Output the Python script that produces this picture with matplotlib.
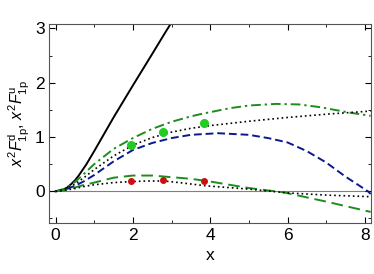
import numpy as np
import matplotlib
import matplotlib.pyplot as plt

plt.rcParams['font.family'] = ['Liberation Sans', 'DejaVu Sans']
plt.rcParams['mathtext.fontset'] = 'custom'
plt.rcParams['mathtext.rm'] = 'Liberation Sans'
plt.rcParams['mathtext.it'] = 'Liberation Sans:italic'

# curves
x_solid = [0, 0.1, 0.2, 0.3, 0.4, 0.5, 0.6, 0.8, 1.0, 1.25, 1.5, 2.0, 2.5, 2.85, 3.0]
y_solid = [0, 0.01, 0.03, 0.07, 0.13, 0.2, 0.29, 0.5, 0.74, 1.05, 1.36, 1.95, 2.53, 2.94, 3.11]

x_dd_up = [0, 0.25, 0.5, 0.75, 1.0, 1.5, 2.0, 2.5, 3.0, 3.5, 3.74, 4.5, 5.0, 5.7, 6.3, 6.84, 7.6, 8.15]
y_dd_up = [0, 0.05, 0.17, 0.33, 0.5, 0.78, 0.98, 1.15, 1.28, 1.38, 1.42, 1.53, 1.58, 1.61, 1.6, 1.55, 1.45, 1.39]

x_dot_up = [0, 0.25, 0.5, 0.75, 1.0, 1.5, 2.0, 2.5, 3.0, 3.5, 4.0, 5.0, 6.0, 7.0, 8.0, 8.15]
y_dot_up = [0, 0.04, 0.13, 0.26, 0.4, 0.65, 0.85, 0.99, 1.09, 1.16, 1.21, 1.29, 1.36, 1.42, 1.47, 1.48]

x_blue = [0, 0.25, 0.5, 0.75, 1.0, 1.5, 2.0, 2.5, 3.0, 3.5, 4.2, 5.0, 5.5, 6.0, 6.5, 7.0, 7.5, 8.08, 8.15]
y_blue = [0, 0.03, 0.1, 0.19, 0.3, 0.55, 0.76, 0.89, 0.98, 1.04, 1.07, 1.04, 0.98, 0.9, 0.74, 0.53, 0.27, 0.0, -0.05]

x_dash_lo = [0, 0.25, 0.5, 0.75, 1.0, 1.5, 2.0, 2.5, 3.0, 3.5, 4.0, 5.0, 5.9, 7.0, 8.15]
y_dash_lo = [0, 0.02, 0.07, 0.12, 0.16, 0.25, 0.29, 0.29, 0.26, 0.23, 0.18, 0.06, -0.02, -0.19, -0.38]

x_dot_lo = [0, 0.25, 0.5, 0.75, 1.0, 1.5, 2.0, 2.4, 2.8, 3.2, 3.9, 5.0, 6.0, 7.0, 8.15]
y_dot_lo = [0, 0.02, 0.05, 0.09, 0.12, 0.16, 0.18, 0.19, 0.19, 0.16, 0.1, 0.04, -0.03, -0.07, -0.1]

# data points
x_pts = [1.94, 2.78, 3.85]
y_green = [0.86, 1.09, 1.26]
y_red = [0.19, 0.21, 0.19]

fig = plt.figure(figsize=(3.74, 2.74), dpi=100)
ax = fig.add_axes([0.132, 0.187, 0.859, 0.725])

ax.axhline(0, color='gray', lw=0.8, zorder=1)
ax.plot(x_solid, y_solid, color='black', lw=1.4)
ax.plot(x_dd_up, y_dd_up, color='#1e8c1e', lw=1.4, dashes=(5, 2, 1.2, 2))
ax.plot(x_dot_up, y_dot_up, color='black', lw=1.2, dashes=(1, 1.8))
ax.plot(x_blue, y_blue, color='#0a1a8c', lw=1.4, dashes=(4, 2))
ax.plot(x_dash_lo, y_dash_lo, color='#1e8c1e', lw=1.4, dashes=(6, 3))
ax.plot(x_dot_lo, y_dot_lo, color='black', lw=1.2, dashes=(1, 1.8))

ax.plot(x_pts, y_green, 'o', color='#22cc22', ms=5.5, zorder=5)
ax.plot(x_pts, y_red, 'o', color='#cc1010', ms=4, zorder=5)

ax.set_xlim(-0.16, 8.15)
ax.set_ylim(-0.58, 3.08)
ax.set_xticks([0, 2, 4, 6, 8])
ax.set_yticks([0, 1, 2, 3])
ax.set_xticks([1, 3, 5, 7], minor=True)
ax.set_yticks([-0.5, 0.5, 1.5, 2.5], minor=True)
ax.tick_params(which='both', direction='in', top=True, right=True, labelsize=12.5)
ax.tick_params(which='major', length=4)
ax.tick_params(which='minor', length=2.5)
for s in ax.spines.values():
    s.set_color('#555555')

ax.set_xlabel('x', fontsize=12.5)
ax.set_ylabel(r'$x^2F^{\rm d}_{\rm 1p}$, $x^2F^{\rm u}_{\rm 1p}$', fontsize=11.5, labelpad=2)

plt.savefig('out.png', dpi=100)
